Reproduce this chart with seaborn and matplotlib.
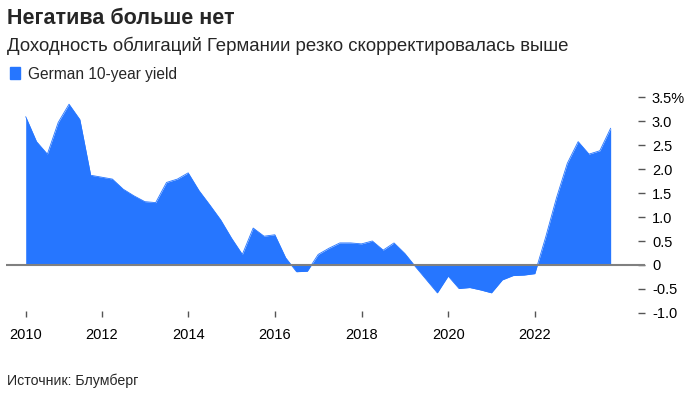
import pandas as pd
import matplotlib.pyplot as plt
import seaborn as sns
from matplotlib.patches import Patch

# Quarterly German 10-year yield, 2010Q1 .. 2023Q3
quarters = pd.period_range('2010Q1', '2023Q3', freq='Q')
yield_pct = [3.09, 2.57, 2.31, 2.97, 3.35, 3.03, 1.87, 1.83, 1.79, 1.58,
             1.44, 1.32, 1.30, 1.72, 1.79, 1.92, 1.55, 1.25, 0.94, 0.56,
             0.22, 0.77, 0.60, 0.63, 0.15, -0.14, -0.13, 0.22, 0.35, 0.46,
             0.46, 0.44, 0.50, 0.31, 0.46, 0.24, -0.04, -0.31, -0.58, -0.23,
             -0.49, -0.47, -0.52, -0.58, -0.31, -0.22, -0.21, -0.18, 0.58, 1.40,
             2.12, 2.57, 2.31, 2.38, 2.85]
tick_years = [2010, 2012, 2014, 2016, 2018, 2020, 2022]
y_ticks = [3.5, 3.0, 2.5, 2.0, 1.5, 1.0, 0.5, 0, -0.5, -1.0]
y_labels = ['3.5%', '3.0', '2.5', '2.0', '1.5', '1.0', '0.5', '0', '-0.5', '-1.0']

title = 'Негатива больше нет'
subtitle = 'Доходность облигаций Германии резко скорректировалась выше'
source = 'Источник: Блумберг'
series_name = 'German 10-year yield'

blue = '#2676ff'

df = pd.DataFrame({'date': quarters.year + quarters.quarter / 4, 'yield': yield_pct})

sns.set_theme(style='white')
plt.rcParams['font.family'] = ['Liberation Sans', 'DejaVu Sans']

fig = plt.figure(figsize=(6.93, 3.93), dpi=100)
ax = fig.add_axes([6 / 693, 1 - 317 / 393, 639 / 693, 227 / 393])

ax.fill_between(df['date'], df['yield'], 0, color=blue, linewidth=0)
sns.lineplot(data=df, x='date', y='yield', color=blue, linewidth=0.6, ax=ax)
ax.axhline(0, color='#808080', linewidth=1.5, zorder=3)

x0 = df['date'].iloc[0]
ax.set_xlim(x0 - 19.7 / 43.33, x0 + 619.3 / 43.33)
ax.set_ylim(-52 / 48, 175 / 48)

ax.set_xticks([max(y, x0) for y in tick_years])
ax.set_xticklabels([str(y) for y in tick_years])
ax.set_yticks(y_ticks)
ax.set_yticklabels(y_labels)
ax.yaxis.tick_right()
ax.tick_params(axis='x', direction='in', length=4, width=1, color='#555555',
               pad=8, labelsize=10.5, labelcolor='black', bottom=True)
ax.tick_params(axis='y', direction='in', length=5, width=1, color='#555555',
               pad=5, labelsize=10.5, labelcolor='black', right=True, left=False)
ax.set_xlabel('')
ax.set_ylabel('')
for s in ax.spines.values():
    s.set_visible(False)

fig.text(7 / 693, 1 - 18 / 393, title, fontsize=15.5, fontweight='bold', va='center')
fig.text(7 / 693, 1 - 46 / 393, subtitle, fontsize=13.4, va='center')
fig.legend(handles=[Patch(color=blue, label=series_name)], loc='center left',
           bbox_to_anchor=(2 / 693, 1 - 74 / 393), frameon=False, fontsize=11.2,
           handlelength=0.65, handleheight=0.85, handletextpad=0.5, borderpad=0)
fig.text(7 / 693, 1 - 381 / 393, source, fontsize=10.2, va='center')

fig.savefig('out.png', dpi=100)
